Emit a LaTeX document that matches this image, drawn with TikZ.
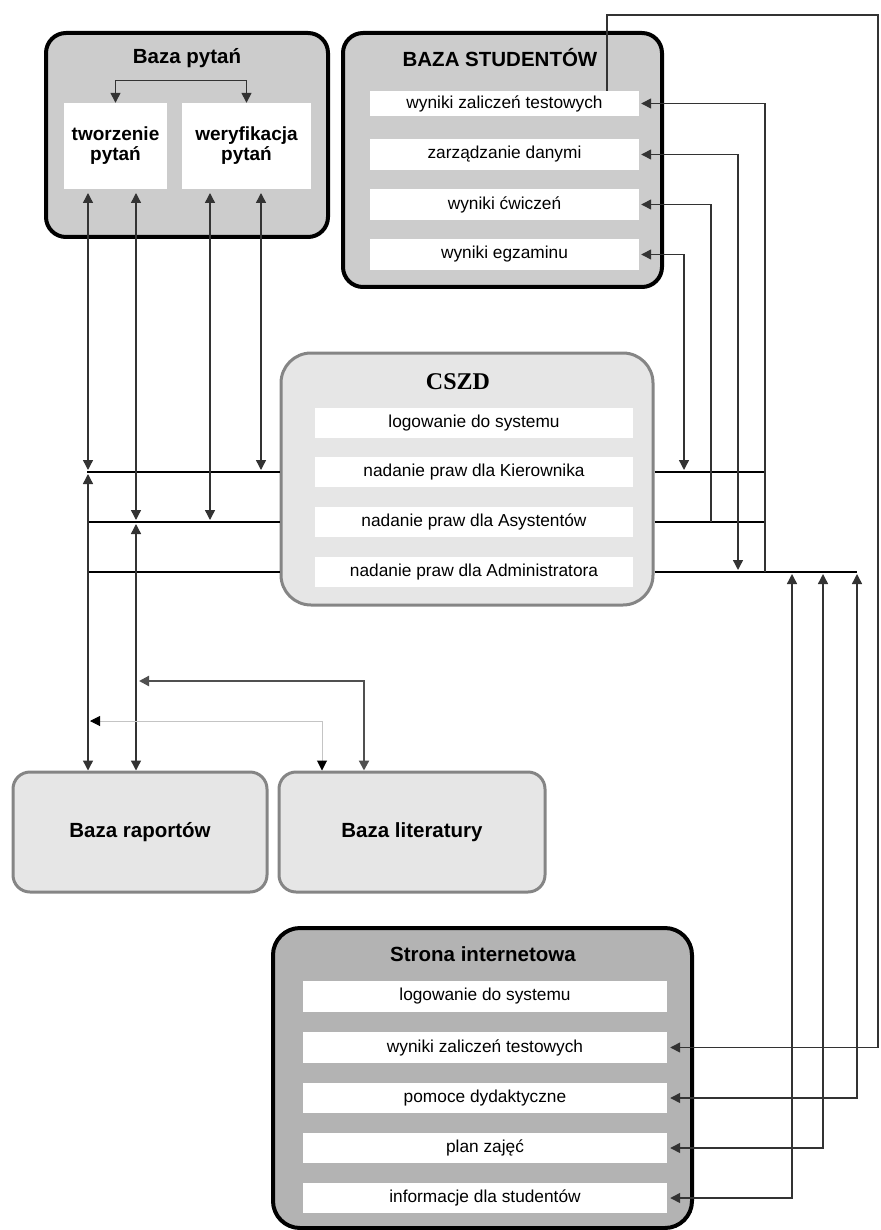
\documentclass[tikz,border=0pt]{standalone}
\usepackage{fontspec}
\setmainfont{Liberation Sans}
\newfontfamily\serifbf{Liberation Serif}
\usetikzlibrary{arrows.meta}
\definecolor{fillmid}{HTML}{CCCCCC}
\definecolor{filldark}{HTML}{B3B3B3}
\definecolor{filllight}{HTML}{E6E6E6}
\definecolor{edgegray}{HTML}{858585}
\definecolor{linegray}{HTML}{333333}
\definecolor{thingray}{HTML}{C4C4C4}
\definecolor{midline}{HTML}{505050}
\begin{document}
\begin{tikzpicture}[x=1pt,y=-1pt,
  >={Triangle[length=10pt,width=10pt]},
  darkbox/.style={draw=black,line width=4pt,rounded corners=20pt,fill=fillmid,inner sep=0},
  stronabox/.style={draw=black,line width=4pt,rounded corners=27pt,fill=filldark,inner sep=0},
  lightbox/.style={draw=edgegray,line width=3pt,fill=filllight,inner sep=0},
  titletext/.style={font=\bfseries\fontsize{20.5}{24}\selectfont,inner sep=0},
  rowbox/.style={fill=white,draw=none,inner sep=0,font=\fontsize{17.3}{20}\selectfont},
  whitebox/.style={fill=white,draw=none,inner sep=0,align=center,font=\bfseries\fontsize{19}{20}\selectfont},
  conn/.style={draw=linegray,line width=1.4pt},
  bus/.style={draw=black,line width=2.2pt},
]
\useasboundingbox (0,0) rectangle (880,1230);

% ---------- Baza pytan ----------
\node[darkbox,minimum width=282,minimum height=204] (bp) at (187,135) {};
\node[titletext] (bpt) at (187,58) {Baza pytań};
\node[whitebox,minimum width=103,minimum height=86] (tw) at (115.5,146) {tworzenie\\pytań};
\node[whitebox,minimum width=129,minimum height=86] (we) at (246.5,146) {weryfikacja\\pytań};
\draw[conn,<->] (tw.north) -- ++(0,-22) -| (we.north);

% ---------- BAZA STUDENTOW ----------
\node[darkbox,minimum width=319,minimum height=254] (bs) at (502.5,160) {};
\node[titletext] (bst) at (500,58) {BAZA STUDENTÓW};
\node[rowbox,minimum width=269,minimum height=25] (s1) at (504.5,103.5) {wyniki zaliczeń testowych};
\node[rowbox,minimum width=269,minimum height=31] (s2) at (504.5,154.5) {zarządzanie danymi};
\node[rowbox,minimum width=269,minimum height=31] (s3) at (504.5,204.5) {wyniki ćwiczeń};
\node[rowbox,minimum width=269,minimum height=31] (s4) at (504.5,254.5) {wyniki egzaminu};

% ---------- CSZD ----------
\node[lightbox,rounded corners=30pt,minimum width=372,minimum height=252] (cs) at (467,479) {};
\node[font=\serifbf\bfseries\fontsize{24}{28}\selectfont,inner sep=0] (cst) at (458,382) {CSZD};
\node[rowbox,minimum width=318,minimum height=30] (c1) at (474,423) {logowanie do systemu};
\node[rowbox,minimum width=318,minimum height=30] (c2) at (474,472) {nadanie praw dla Kierownika};
\node[rowbox,minimum width=318,minimum height=30] (c3) at (474,522) {nadanie praw dla Asystentów};
\node[rowbox,minimum width=318,minimum height=30] (c4) at (474,572) {nadanie praw dla Administratora};

% ---------- Baza raportow / literatury ----------
\node[lightbox,rounded corners=17pt,minimum width=254,minimum height=120,titletext] (br) at (140,832) {Baza raportów};
\node[lightbox,rounded corners=17pt,minimum width=266,minimum height=120,titletext] (bl) at (412,832) {Baza literatury};

% ---------- Strona internetowa ----------
\node[stronabox,minimum width=419,minimum height=300] (si) at (482.5,1078) {};
\node[titletext] (sit) at (483,954) {Strona internetowa};
\node[rowbox,minimum width=364,minimum height=31] (w1) at (485,996.5) {logowanie do systemu};
\node[rowbox,minimum width=364,minimum height=31] (w2) at (485,1047.5) {wyniki zaliczeń testowych};
\node[rowbox,minimum width=364,minimum height=30] (w3) at (485,1098) {pomoce dydaktyczne};
\node[rowbox,minimum width=364,minimum height=30] (w4) at (485,1148) {plan zajęć};
\node[rowbox,minimum width=364,minimum height=30] (w5) at (485,1198) {informacje dla studentów};

% ---------- named free ends ----------
\coordinate (LA) at (87,472);
\coordinate (LB) at (87,522);
\coordinate (LC) at (87,572);
\coordinate (RA) at (765,472);
\coordinate (RB) at (765,522);
\coordinate (RC) at (857,572);
\coordinate (topA) at (88,193);
\coordinate (topB) at (136,193);
\coordinate (topC) at (210,193);
\coordinate (topD) at (261,193);
\coordinate (corner) at (878,15);

% ---------- bus lines ----------
\draw[bus] (LA) -- (LA -| cs.west);
\draw[bus] (LB) -- (LB -| cs.west);
\draw[bus] (LC) -- (LC -| cs.west);
\draw[bus] (RA -| cs.east) -- (RA);
\draw[bus] (RB -| cs.east) -- (RB);
\draw[bus] (RC -| cs.east) -- (RC);

% ---------- left verticals ----------
\draw[conn,<->] (topA) -- (88,470);
\draw[conn,<->] (88,474) -- (br.north -| 88,0);
\draw[conn,<->] (topB) -- (136,520);
\draw[conn,<->] (136,524) -- (br.north -| 136,0);
\draw[conn,<->] (topC) -- (210,520);
\draw[conn,<->] (topD) -- (261,470);

% ---------- bottom links to Baza literatury ----------
\draw[draw=midline,line width=2.2pt,<->] (bl.north -| 364,0) |- (139,681);
\draw[draw=thingray,line width=1pt,>={Triangle[length=10pt,width=10pt,color=black]},<->] (bl.north -| 322,0) |- (90,721);

% ---------- right side links to BAZA STUDENTOW ----------
\draw[conn,->] (765,572) |- ([xshift=2pt]s1.east);
\draw[conn,<->] (738,570) |- ([xshift=2pt]s2.east);
\draw[conn,->] (711,522) |- ([xshift=2pt]s3.east);
\draw[conn,<->] (684,470) |- ([xshift=2pt]s4.east);

% ---------- long loop to Strona ----------
\draw[conn,->] ([xshift=102.5pt]s1.north) |- (corner) |- ([xshift=3pt]w2.east);

% ---------- bottom right links ----------
\draw[conn,<->] (857,574) |- ([xshift=3pt]w3.east);
\draw[conn,<->] (823,574) |- ([xshift=3pt]w4.east);
\draw[conn,<->] (792,574) |- ([xshift=3pt]w5.east);
\end{tikzpicture}
\end{document}
